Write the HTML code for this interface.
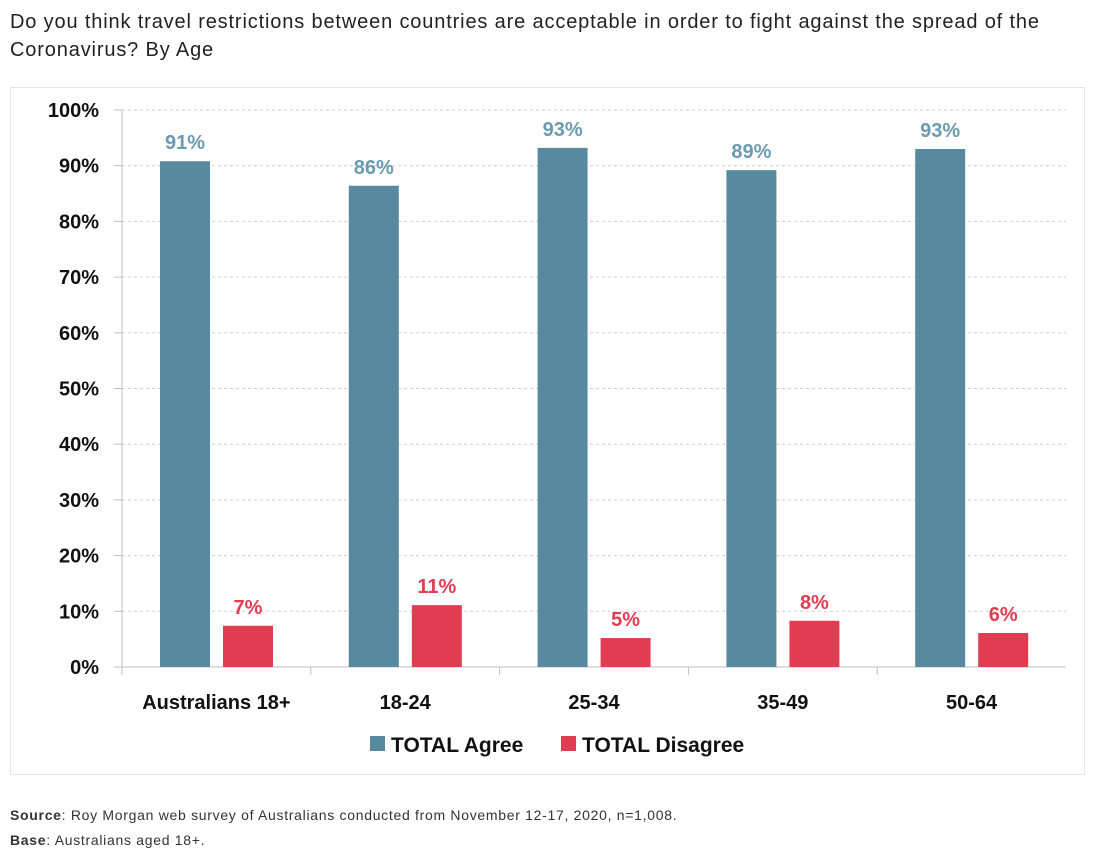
<!DOCTYPE html>
<html><head><meta charset="utf-8"><style>
body{margin:0;width:1095px;height:851px;background:#fff;font-family:"Liberation Sans",sans-serif;overflow:hidden;position:relative}
#title{position:absolute;left:10px;top:8px;font-size:20px;line-height:28px;color:#222;width:1060px;letter-spacing:0.85px}
#frame{position:absolute;left:10px;top:87px;width:1075px;height:688px;border:1px solid #e6e6e6;box-sizing:border-box}
.note{position:absolute;left:10px;font-size:14px;color:#333;letter-spacing:0.7px}
svg{position:absolute;left:0;top:0}
</style></head><body>
<div id="title">Do you think travel restrictions between countries are acceptable in order to fight against the spread of the Coronavirus? By Age</div>
<div id="frame"></div>
<svg id="chart" width="1095" height="851"></svg>
<div class="note" style="top:807px"><b>Source</b>: Roy Morgan web survey of Australians conducted from November 12-17, 2020, n=1,008.</div>
<div class="note" style="top:832px"><b>Base</b>: Australians aged 18+.</div>
<script>
const categories=["Australians 18+","18-24","25-34","35-49","50-64"];
const agreeValues=[90.8,86.4,93.2,89.2,93.0];
const disagreeValues=[7.4,11.1,5.2,8.3,6.1];
const agreeLabels=["91%","86%","93%","89%","93%"];
const disagreeLabels=["7%","11%","5%","8%","6%"];
const yTicks=[0,10,20,30,40,50,60,70,80,90,100];
const svg=document.getElementById('chart');
const NS='http://www.w3.org/2000/svg';
const x0=122,x1=1066,yb=667,yt=110;
const cw=(x1-x0)/categories.length;
const y=v=>yb-(v/100)*(yb-yt);
function mk(t,a,txt){const e=document.createElementNS(NS,t);for(const k in a)e.setAttribute(k,a[k]);if(txt!=null)e.textContent=txt;svg.appendChild(e);return e;}
yTicks.forEach(v=>{
 if(v>0){const g=mk('line',{x1:x0,x2:x1,y1:y(v),y2:y(v),stroke:'#d0d0d0','stroke-dasharray':'3,3'});
 
 }
 const tk=mk('line',{x1:114,x2:x0,y1:y(v),y2:y(v),stroke:'#bfbfbf'});
 
 
 const t=mk('text',{x:99,y:y(v)+7,'text-anchor':'end','font-size':20,'font-weight':'bold',fill:'#111'},v+'%');
 
 
});
const ax=mk('line',{x1:x0,x2:x0,y1:y(100),y2:yb,stroke:'#bfbfbf'});


const xa=mk('line',{x1:x0,x2:x1,y1:yb,y2:yb,stroke:'#bfbfbf'});


categories.forEach((c,i)=>{
 const cs=x0+i*cw;
 const tk=mk('line',{x1:cs,x2:cs,y1:yb,y2:yb+8,stroke:'#bfbfbf'});
 
 
 const a=mk('rect',{x:cs+38,y:y(agreeValues[i]),width:50,height:yb-y(agreeValues[i]),fill:'#578a9e'});
 
 
 const d=mk('rect',{x:cs+101,y:y(disagreeValues[i]),width:50,height:yb-y(disagreeValues[i]),fill:'#e03c52'});
 
 
 const la=mk('text',{x:cs+63,y:y(agreeValues[i])-12,'text-anchor':'middle','font-size':20,'font-weight':'bold',fill:'#6a9bb0'},agreeLabels[i]);
 
 
 const ld=mk('text',{x:cs+126,y:y(disagreeValues[i])-12,'text-anchor':'middle','font-size':20,'font-weight':'bold',fill:'#e03c52'},disagreeLabels[i]);
 
 
 const cl=mk('text',{x:cs+cw/2,y:709,'text-anchor':'middle','font-size':20,'font-weight':'bold',fill:'#111'},c);
 
 
});
const l1=mk('rect',{x:370,y:736,width:15,height:15,fill:'#578a9e'});


const t1=mk('text',{x:391,y:752,'font-size':21,'font-weight':'bold',fill:'#111'},'TOTAL Agree');


const l2=mk('rect',{x:561,y:736,width:15,height:15,fill:'#e03c52'});


const t2=mk('text',{x:582,y:752,'font-size':21,'font-weight':'bold',fill:'#111'},'TOTAL Disagree');


</script>
</body></html>
